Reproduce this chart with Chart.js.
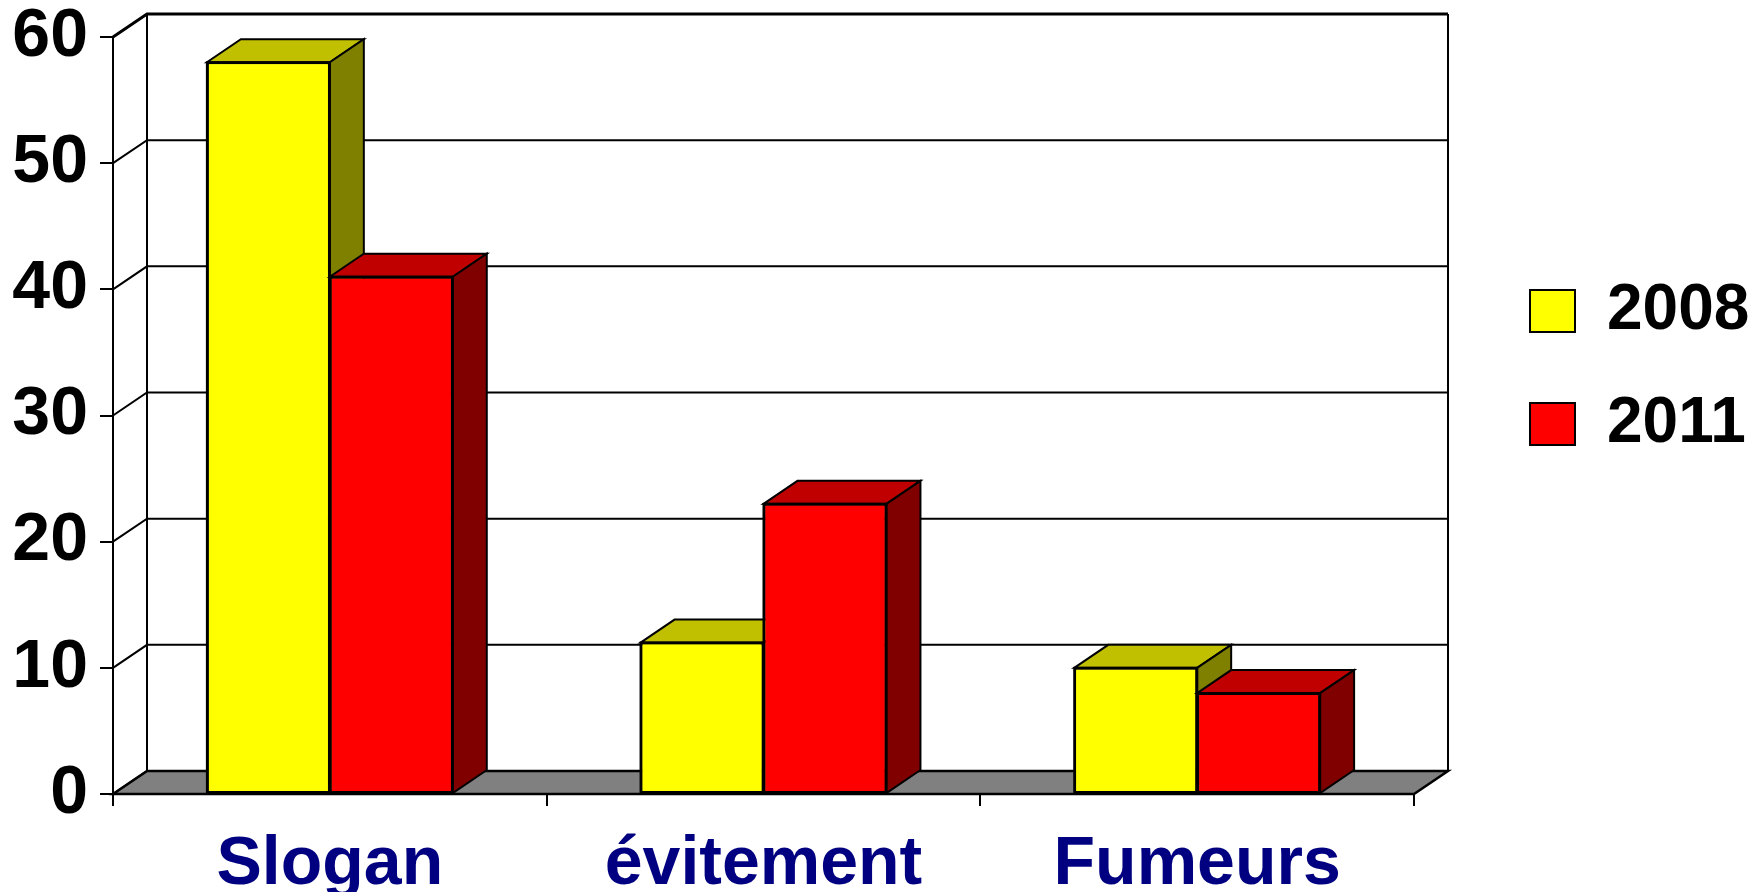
<!DOCTYPE html>
<html>
<head>
<meta charset="utf-8">
<script src="https://cdn.jsdelivr.net/npm/chart.js@4/dist/chart.umd.min.js"></script>
<style>
  html, body { margin: 0; padding: 0; background: #ffffff; overflow: hidden; }
  #wrap { width: 1753px; height: 892px; position: relative; }
</style>
</head>
<body>
<div id="wrap"><canvas id="c" width="1753" height="892"></canvas></div>
<script>
// ---- data ----
const categories = ['Slogan', 'évitement', 'Fumeurs'];
const seriesNames = ['2008', '2011'];
const values2008 = [58, 12, 10];
const values2011 = [41, 23, 8];
const yTickStep = 10;
const yMin = 0;
const yMax = 60;

// ---- styles ----
const FONT = "'Liberation Sans', Arial, Helvetica, sans-serif";
const frontColors = ['#FFFF00', '#FF0000'];
const topColors = ['#C0C000', '#C00000'];
const sideColors = ['#808000', '#800000'];
const DX = 34, DY = 23;          // 3D depth offset
const PLOT_RIGHT = 1414;          // front right edge of plot

Chart.defaults.font.family = FONT;

const threeD = {
  id: 'threeD',
  afterLayout(chart) {
    const L = chart.legend;
    if (!L) return;
    const pad = L.options.labels.padding;
    const dx = 1530 - (L.left + pad);
    const dy = 279 - (L.top + pad);
    L.left += dx; L.right += dx; L.top += dy; L.bottom += dy;
  },
  beforeDatasetsDraw(chart) {
    const { ctx, chartArea: a, scales: { y } } = chart;
    const y0 = y.getPixelForValue(yMin);
    const yT = y.getPixelForValue(yMax);
    ctx.save();
    ctx.lineJoin = 'miter';
    // floor
    ctx.beginPath();
    ctx.moveTo(a.left, y0);
    ctx.lineTo(a.right, y0);
    ctx.lineTo(a.right + DX, y0 - DY);
    ctx.lineTo(a.left + DX, y0 - DY);
    ctx.closePath();
    ctx.fillStyle = '#808080';
    ctx.fill();
    ctx.lineWidth = 2.5;
    ctx.strokeStyle = '#000000';
    ctx.stroke();
    // back wall gridlines + side connectors
    y.ticks.forEach(t => {
      const py = y.getPixelForValue(t.value);
      ctx.beginPath();
      ctx.moveTo(a.left, py);
      ctx.lineTo(a.left + DX, py - DY);
      if (t.value > yMin) ctx.lineTo(a.right + DX, py - DY);
      ctx.lineWidth = t.value === yMax ? 3 : 2;
      ctx.stroke();
    });
    // wall verticals
    ctx.lineWidth = 2;
    ctx.beginPath();
    ctx.moveTo(a.left + DX, yT - DY);
    ctx.lineTo(a.left + DX, y0 - DY);
    ctx.moveTo(a.right + DX, yT - DY);
    ctx.lineTo(a.right + DX, y0 - DY);
    ctx.stroke();
    ctx.restore();
  },
  afterDatasetsDraw(chart) {
    const { ctx } = chart;
    ctx.save();
    ctx.lineWidth = 2;
    ctx.strokeStyle = '#000000';
    ctx.lineJoin = 'miter';
    chart.data.datasets.forEach((ds, i) => {
      const meta = chart.getDatasetMeta(i);
      if (meta.hidden) return;
      meta.data.forEach(el => {
        el.draw(ctx);
        const p = el.getProps(['x', 'y', 'base', 'width'], true);
        const l = p.x - p.width / 2, r = p.x + p.width / 2;
        const top = Math.min(p.y, p.base), base = Math.max(p.y, p.base);
        // top face
        ctx.beginPath();
        ctx.moveTo(l, top);
        ctx.lineTo(l + DX, top - DY);
        ctx.lineTo(r + DX, top - DY);
        ctx.lineTo(r, top);
        ctx.closePath();
        ctx.fillStyle = topColors[i];
        ctx.fill();
        ctx.stroke();
        // side face
        ctx.beginPath();
        ctx.moveTo(r, top);
        ctx.lineTo(r + DX, top - DY);
        ctx.lineTo(r + DX, base - DY);
        ctx.lineTo(r, base);
        ctx.closePath();
        ctx.fillStyle = sideColors[i];
        ctx.fill();
        ctx.stroke();
        // front outline
        ctx.strokeRect(l, top, r - l, base - top);
      });
    });
    ctx.restore();
  }
};

new Chart(document.getElementById('c'), {
  type: 'bar',
  data: {
    labels: categories,
    datasets: [
      { label: seriesNames[0], data: values2008, backgroundColor: frontColors[0], borderColor: '#000', borderWidth: 2, borderSkipped: false },
      { label: seriesNames[1], data: values2011, backgroundColor: frontColors[1], borderColor: '#000', borderWidth: 2, borderSkipped: false }
    ]
  },
  options: {
    responsive: false,
    animation: false,
    events: [],
    layout: { padding: { top: 37, left: 0, right: 0, bottom: 0 } },
    datasets: { bar: { categoryPercentage: 0.567, barPercentage: 1.0 } },
    scales: {
      x: {
        grid: { offset: true, drawOnChartArea: false, drawTicks: true, tickLength: 12, color: '#000', lineWidth: 2 },
        border: { display: true, color: '#000', width: 2 },
        ticks: { color: '#000080', padding: 25, font: { size: 68, weight: 'bold', lineHeight: 1 } },
        afterFit: s => { s.height = 98; }
      },
      y: {
        min: yMin, max: yMax,
        grid: { drawOnChartArea: false, drawTicks: true, tickLength: 13, color: '#000', lineWidth: 2 },
        border: { display: true, color: '#000', width: 2 },
        ticks: { stepSize: yTickStep, color: '#000', padding: 12, font: { size: 68, weight: 'bold', lineHeight: 0.6 } },
        afterFit: s => { s.width = 113; }
      },
      yRight: {
        type: 'linear', position: 'right', min: 0, max: 1,
        grid: { display: false }, border: { display: false }, ticks: { display: false },
        afterFit: s => { s.width = Math.max(0, s.chart.width - PLOT_RIGHT - (s.chart.legend ? s.chart.legend.width : 0)); }
      }
    },
    plugins: {
      tooltip: { enabled: false },
      legend: {
        position: 'right', align: 'start',
        labels: { boxWidth: 45, boxHeight: 42, padding: 49, color: '#000', font: { size: 64, weight: 'bold' } }
      }
    }
  },
  plugins: [threeD]
});
</script>
</body>
</html>
